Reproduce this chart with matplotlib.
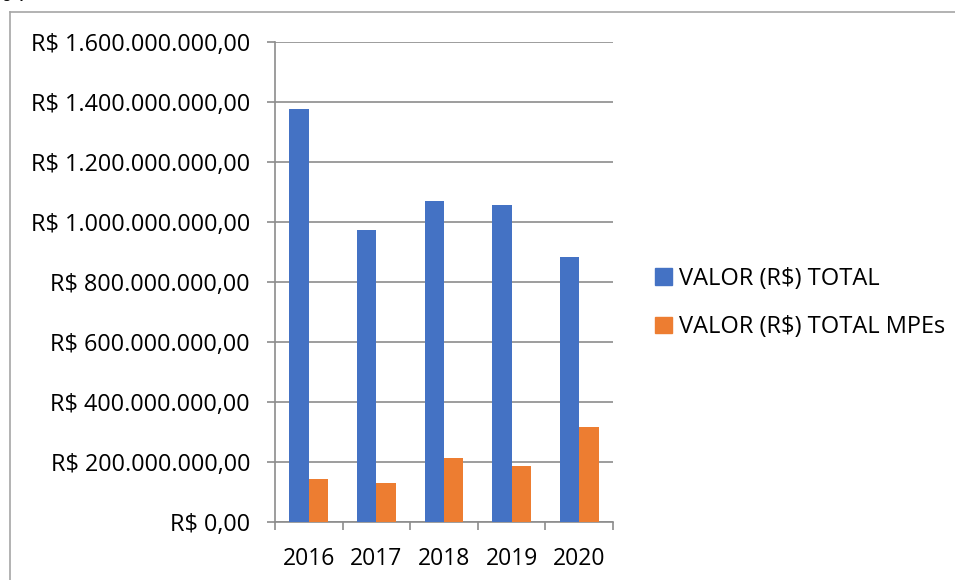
import matplotlib
matplotlib.use("Agg")
import matplotlib.pyplot as plt
from matplotlib.lines import Line2D
from matplotlib.patches import Patch
import numpy as np

# Data
anos = ["2016", "2017", "2018", "2019", "2020"]
valor_total = [1376e6, 972e6, 1069e6, 1056e6, 883e6]
valor_mpes = [142e6, 129e6, 213e6, 188e6, 316e6]
y_ticks = [0, 200e6, 400e6, 600e6, 800e6, 1000e6, 1200e6, 1400e6, 1600e6]

azul = "#4472C4"
laranja = "#ED7D31"
cinza = "#8C8C8C"
fs = 16.5


def fmt_reais(v):
    s = f"{v:,.2f}"
    s = s.replace(",", "X").replace(".", ",").replace("X", ".")
    return "R$ " + s


plt.rcParams["font.family"] = ["Open Sans", "DejaVu Sans"]

fig = plt.figure(figsize=(9.55, 5.8), dpi=100)
ax = fig.add_axes([275 / 955, 1 - 522 / 580, (613 - 275) / 955, (522 - 42) / 580])

x = np.arange(len(anos))
w = 0.286
ax.bar(x - w / 2, valor_total, w, color=azul, label="VALOR (R$) TOTAL", zorder=3)
ax.bar(x + w / 2, valor_mpes, w, color=laranja, label="VALOR (R$) TOTAL MPEs", zorder=3)

ax.set_xlim(-0.5, len(anos) - 0.5)
ax.set_ylim(0, 1600e6)
ax.set_yticks(y_ticks)
ax.set_yticklabels([fmt_reais(v) for v in y_ticks], fontsize=16.8)
ax.yaxis.grid(True, color=cinza, linewidth=1.2, zorder=0)

# category boundaries as major ticks, labels on minor ticks
ax.set_xticks(np.arange(-0.5, len(anos), 1.0))
ax.set_xticklabels([])
ax.set_xticks(x, minor=True)
ax.set_xticklabels(anos, minor=True, fontsize=fs)
ax.tick_params(axis="x", which="major", length=6, color=cinza, width=1.2)
ax.tick_params(axis="x", which="minor", length=0, pad=18)
ax.tick_params(axis="y", length=6, color=cinza, width=1.2, pad=12)

for side in ["top", "right"]:
    ax.spines[side].set_visible(False)
ax.spines["left"].set_color(cinza)
ax.spines["bottom"].set_color(cinza)
ax.spines["left"].set_linewidth(1.2)
ax.spines["bottom"].set_linewidth(1.2)

handles = [Patch(color=azul), Patch(color=laranja)]
fig.legend(handles, ["VALOR (R$) TOTAL", "VALOR (R$) TOTAL MPEs"],
           loc="center left", bbox_to_anchor=(655 / 955, 1 - 303 / 580),
           frameon=False, fontsize=17, handlelength=0.7, handleheight=0.7,
           handletextpad=0.3, labelspacing=1.05, borderpad=0.0, borderaxespad=0.0)

# frame around the chart and clipped text of the page above
fig.add_artist(Line2D([10 / 955, 1], [1 - 12 / 580, 1 - 12 / 580], color="#A6A6A6", linewidth=1.2))
fig.add_artist(Line2D([10 / 955, 10 / 955], [0, 1 - 12 / 580], color="#A6A6A6", linewidth=1.2))
fig.text(0.0, 1 - 6 / 580, "0ª:", family="Liberation Serif", fontsize=17, va="bottom", ha="left")

fig.savefig("out.png", dpi=100)
